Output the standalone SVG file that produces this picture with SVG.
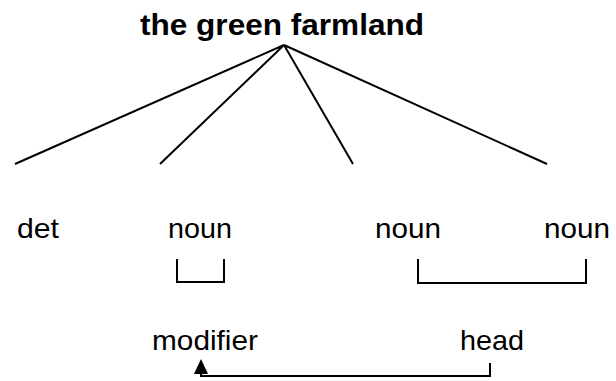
<svg xmlns="http://www.w3.org/2000/svg" width="616" height="381" viewBox="0 0 616 381">
<style>
.t{font-family:"Liberation Sans",Arial,sans-serif;font-size:28px;fill:#000}
.b{font-weight:bold;font-size:30px}
.ln{stroke:#000;stroke-width:2;fill:none}
</style>
<rect width="616" height="381" fill="#fff"/>
<g id="root"><text class="t b" x="140" y="35" textLength="284" lengthAdjust="spacingAndGlyphs">the green farmland</text></g>
<g id="det"><text class="t" x="17" y="238" textLength="42" lengthAdjust="spacingAndGlyphs">det</text></g>
<g id="noun1"><text class="t" x="168" y="238" textLength="64" lengthAdjust="spacingAndGlyphs">noun</text></g>
<g id="noun2"><text class="t" x="375" y="238" textLength="66" lengthAdjust="spacingAndGlyphs">noun</text></g>
<g id="noun3"><text class="t" x="544" y="238" textLength="66" lengthAdjust="spacingAndGlyphs">noun</text></g>
<g id="modifier"><text class="t" x="152" y="350" textLength="106" lengthAdjust="spacingAndGlyphs">modifier</text></g>
<g id="head"><text class="t" x="460" y="350" textLength="64" lengthAdjust="spacingAndGlyphs">head</text></g>
<g id="connectors">
<path class="ln" d="M284,45 L15,164 M284,45 L160,164 M284,45 L353,164 M284,45 L547,164"/>
<path class="ln" d="M177,259 V282 H224 V259"/>
<path class="ln" d="M418,259 V283 H586 V259"/>
<path class="ln" d="M490,363 V376 H201 V368"/>
<path d="M194,374 L201,359 L208,374 Z" fill="#000"/>
</g>
</svg>
